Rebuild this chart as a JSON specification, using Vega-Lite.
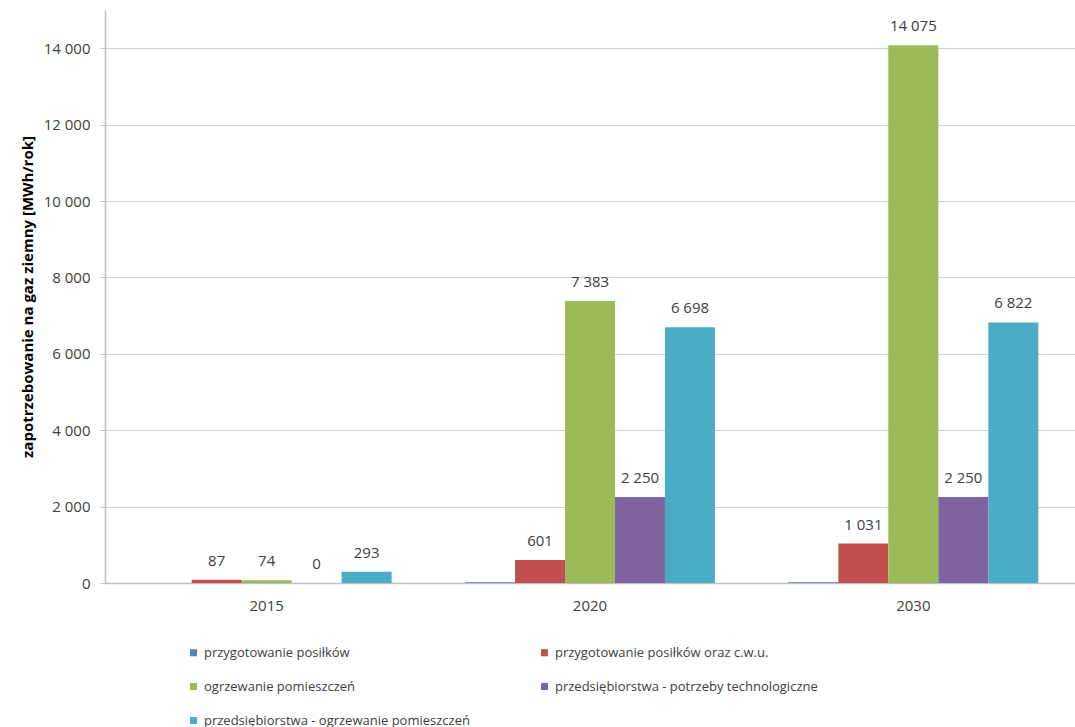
{
  "$schema": "https://vega.github.io/schema/vega-lite/v6.json",
  "width": 970,
  "height": 573,
  "autosize": {"type": "none"},
  "padding": {"left": 105, "top": 10, "right": 0, "bottom": 144},
  "background": "white",
  "config": {
    "locale": {"number": {"decimal": ",", "thousands": " ", "grouping": [3], "currency": ["", ""]}},
    "font": "Open Sans",
    "view": {"stroke": null}
  },
  "data": {
    "values": [
      {"rok": "2015", "kategoria": "przygotowanie posiłków", "wartosc": 0},
      {"rok": "2015", "kategoria": "przygotowanie posiłków oraz c.w.u.", "wartosc": 87},
      {"rok": "2015", "kategoria": "ogrzewanie pomieszczeń", "wartosc": 74},
      {"rok": "2015", "kategoria": "przedsiębiorstwa - potrzeby technologiczne", "wartosc": 0},
      {"rok": "2015", "kategoria": "przedsiębiorstwa - ogrzewanie pomieszczeń", "wartosc": 293},
      {"rok": "2020", "kategoria": "przygotowanie posiłków", "wartosc": 20},
      {"rok": "2020", "kategoria": "przygotowanie posiłków oraz c.w.u.", "wartosc": 601},
      {"rok": "2020", "kategoria": "ogrzewanie pomieszczeń", "wartosc": 7383},
      {"rok": "2020", "kategoria": "przedsiębiorstwa - potrzeby technologiczne", "wartosc": 2250},
      {"rok": "2020", "kategoria": "przedsiębiorstwa - ogrzewanie pomieszczeń", "wartosc": 6698},
      {"rok": "2030", "kategoria": "przygotowanie posiłków", "wartosc": 20},
      {"rok": "2030", "kategoria": "przygotowanie posiłków oraz c.w.u.", "wartosc": 1031},
      {"rok": "2030", "kategoria": "ogrzewanie pomieszczeń", "wartosc": 14075},
      {"rok": "2030", "kategoria": "przedsiębiorstwa - potrzeby technologiczne", "wartosc": 2250},
      {"rok": "2030", "kategoria": "przedsiębiorstwa - ogrzewanie pomieszczeń", "wartosc": 6822}
    ]
  },
  "encoding": {
    "x": {
      "field": "rok", "type": "nominal", "sort": ["2015", "2020", "2030"],
      "scale": {"paddingInner": 0.227, "paddingOuter": 0.1135},
      "axis": {
        "title": null, "labelAngle": 0, "labelFontSize": 15, "labelColor": "#404040",
        "labelPadding": 15, "ticks": false, "domainColor": "#bfbfbf", "domainWidth": 1.5
      }
    },
    "xOffset": {
      "field": "kategoria", "type": "nominal",
      "sort": ["przygotowanie posiłków", "przygotowanie posiłków oraz c.w.u.", "ogrzewanie pomieszczeń", "przedsiębiorstwa - potrzeby technologiczne", "przedsiębiorstwa - ogrzewanie pomieszczeń"],
      "scale": {"paddingInner": 0, "paddingOuter": 0}
    },
    "y": {
      "field": "wartosc", "type": "quantitative",
      "scale": {"domain": [0, 15000], "nice": false},
      "axis": {
        "title": "zapotrzebowanie na gaz ziemny [MWh/rok]",
        "titleFontSize": 15, "titleFontWeight": "bold", "titleColor": "#000000", "titlePadding": 8,
        "values": [0, 2000, 4000, 6000, 8000, 10000, 12000, 14000],
        "format": ",d", "labelFontSize": 15, "labelColor": "#404040", "labelPadding": 10,
        "tickSize": 5, "tickColor": "#bfbfbf", "domainColor": "#bfbfbf", "domainWidth": 1.5,
        "gridColor": "#d0d0d0", "gridWidth": 1.2
      }
    }
  },
  "layer": [
    {
      "mark": {"type": "bar"},
      "encoding": {
        "color": {
          "field": "kategoria", "type": "nominal",
          "scale": {
            "domain": ["przygotowanie posiłków", "przygotowanie posiłków oraz c.w.u.", "ogrzewanie pomieszczeń", "przedsiębiorstwa - potrzeby technologiczne", "przedsiębiorstwa - ogrzewanie pomieszczeń"],
            "range": ["#4f81bd", "#c0504d", "#9bbb59", "#8064a2", "#4bacc6"]
          },
          "legend": {
            "title": null, "orient": "none", "legendX": 82, "legendY": 636,
            "direction": "horizontal", "columns": 2, "columnPadding": 68, "rowPadding": 20,
            "symbolType": "square", "symbolSize": 50, "symbolStrokeWidth": 0,
            "labelFontSize": 13, "labelColor": "#404040", "labelOffset": 4,
            "labelLimit": 400
          }
        }
      }
    },
    {
      "transform": [{"filter": "datum.kategoria !== 'przygotowanie posiłków'"}],
      "mark": {"type": "text", "baseline": "bottom", "dy": -11, "fontSize": 15, "color": "#404040"},
      "encoding": {
        "text": {"field": "wartosc", "type": "quantitative", "format": ",d"}
      }
    }
  ]
}
